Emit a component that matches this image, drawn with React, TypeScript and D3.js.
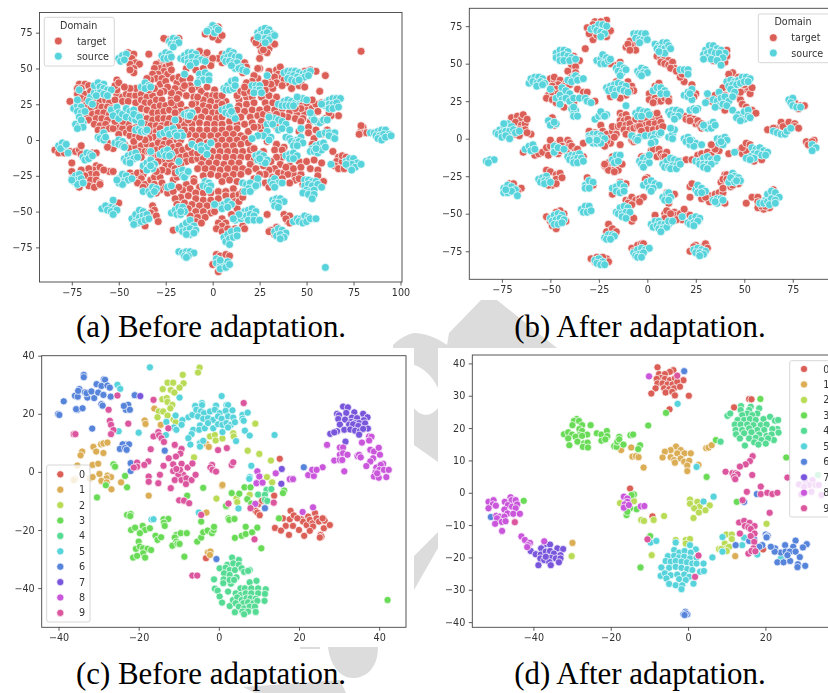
import React, { useEffect, useRef } from 'react';
import * as d3 from 'd3';

type Pt = number[];

const domainColors = ['#db5f57', '#57d3db'];
const digitColors = ['#db5f57', '#dbae57', '#b9db57', '#69db57', '#57db94', '#57d3db', '#5784db', '#7957db', '#c957db', '#db579e'];
const domainLabels = ['target', 'source'];
const digitLabels = ['0', '1', '2', '3', '4', '5', '6', '7', '8', '9'];

const ticksA = { x: [-75, -50, -25, 0, 25, 50, 75, 100], y: [-75, -50, -25, 0, 25, 50, 75] };
const ticksB = { x: [-75, -50, -25, 0, 25, 50, 75], y: [-75, -50, -25, 0, 25, 50, 75] };
const ticksC = { x: [-40, -20, 0, 20, 40], y: [-40, -20, 0, 20, 40] };
const ticksD = { x: [-40, -20, 0, 20], y: [-40, -30, -20, -10, 0, 10, 20, 30, 40] };

const aTarget: Pt[] = [
[3,79],[-4,74],[4,72],[3,70],[5,73],[0,72],[28,66],[25,66],[30,64],[26,62],[29,61],[32,68],[27,63],[22,70],[23,68],[33,67],[-24,70],[-18,71],[-26,71],[79,62],
[-34,60],[-45,61],[-42,60],[-43,57],[-41,54],[-39,53],[-44,53],[-42,50],[-42,47],[-44,49],[-4,59],[-7,62],[-3,61],[5,60],[5,54],[-1,54],[3,57],[0,57],[14,56],[17,54],[18,51],[16,47],[25,50],[24,50],[25,57],
[-28,54],[-30,53],[-26,56],[-28,50],[-31,50],[-25,51],[-23,53],[-26,48],[-29,46],[-24,46],[-32,46],[-30,43],[-27,43],[-22,49],[-33,42],[-28,39],[-25,41],[-21,43],[-35,43],
[-14,50],[-9,49],[-5,50],[-1,52],[-12,43],[-8,37],[-12,38],[-19,40],[-16,36],[-20,36],[-11,35],[-6,34],[-3,37],[1,35],[-3,31],[0,31],[-14,31],[-10,30],[-18,32],[-22,29],
[30,48],[34,49],[36,51],[35,46],[31,43],[33,44],[37,44],[40,40],[38,42],[43,39],[46,38],[34,40],[37,38],[47,41],[52,49],[55,48],[49,48],[60,45],[32,36],[49,37],[42,36],
[-71,39],[-72,36],[-68,39],[-70,36],[-66,38],[-72,32],[-68,32],[-65,34],[-70,29],[-67,28],[-63,27],[-60,27],[-57,28],[-55,26],[-68,24],[-65,22],[-62,24],[-59,23],[-56,23],[-54,22],[-67,18],[-64,18],[-61,19],[-58,19],[-55,18],[-66,14],[-62,15],[-59,15],[-56,14],[-63,11],[-60,10],[-57,11],[-61,7],[-58,7],[-55,8],[-76,27],
[-51,32],[-51,35],[-48,30],[-46,32],[-52,28],[-48,27],[-44,31],[-41,31],[-38,32],[-45,27],[-41,26],[-38,28],[-35,30],[-32,31],[-36,26],[-33,26],[-30,28],[-27,28],[-31,23],[-28,24],[-25,24],[-38,22],[-35,21],[-32,19],[-29,19],[-26,20],[-23,21],[-20,24],[-17,25],[-22,26],[-19,29],[-38,16],[-35,15],[-32,14],[-29,15],[-26,15],[-23,15],[-36,11],[-33,10],[-30,10],[-27,10],[-24,11],[-21,11],[-18,10],[-15,11],[-45,11],[-51,9],[-53,8],[-48,8],[-50,4],[-46,5],[-44,3],[-41,3],[-33,5],[-30,6],[-28,8],[-31,2],[-28,0],[-25,1],[-22,1],[-19,0],[-17,0],[-34,1],
[-47,-3],[-44,-6],[-41,-5],[-38,-4],[-35,-3],[-32,-4],[-29,-2],[-26,-3],[-23,-2],[-39,-8],[-36,-8],[-38,-12],[-30,-7],[-27,-6],[-21,-5],[-18,-4],[-19,-8],[-16,-7],[-20,-13],[-17,-12],[-14,-11],[-11,-9],[-14,-15],[-11,-14],[-8,-13],[-53,-6],[-56,-2],[-56,-5],
[-5,28],[-1,27],[3,27],[7,27],[14,28],[18,30],[21,30],[-9,26],[-5,24],[-2,23],[2,23],[5,25],[14,24],[18,25],[22,26],[-8,21],[-4,20],[0,19],[3,19],[13,21],[17,20],[21,21],[25,21],[-9,15],[-6,16],[-2,15],[2,15],[5,16],[15,16],[20,16],[24,17],[27,18],
[-11,11],[-7,12],[-3,11],[1,11],[5,11],[9,13],[13,11],[17,11],[21,12],[26,13],[-11,7],[-7,7],[-3,7],[1,7],[5,7],[9,8],[13,8],[-13,4],[-9,3],[-5,3],[-1,3],[3,3],[7,4],[11,4],[15,3],[19,6],[-11,-1],[-7,-1],[-3,-2],[1,-1],[5,0],[9,0],[13,0],[17,1],
[-13,-5],[3,-4],[7,-4],[11,-4],[15,-3],[19,-2],[-8,-9],[-4,-9],[0,-8],[4,-8],[8,-8],[12,-8],[16,-8],[20,-7],[-5,-13],[-1,-12],[3,-12],[7,-12],[11,-12],[15,-12],[19,-12],[-6,-17],[-2,-16],[2,-16],[6,-17],[10,-16],[14,-16],
[-8,-20],[-4,-20],[0,-20],[4,-21],[8,-20],[12,-20],[16,-20],[-5,-25],[-1,-24],[3,-25],[7,-25],[11,-24],[15,-24],[-10,-27],[5,-29],[9,-28],[13,-29],
[-14,-31],[-10,-29],[-7,-33],[-16,-35],[-12,-34],[-9,-37],[-5,-37],[-1,-37],[3,-36],[7,-36],[11,-34],[-17,-40],[-13,-39],[-9,-41],[-5,-42],[-1,-42],[3,-41],[7,-39],[11,-39],[14,-38],[-15,-44],[-11,-45],[-7,-46],[-3,-46],[1,-47],[12,-43],[-13,-48],[-9,-50],[-5,-50],[-1,-51],[-12,-53],[-8,-54],[-4,-54],[-9,-57],[-6,-58],[5,-55],[3,-58],[7,-58],[10,-52],[13,-48],[5,-60],[2,-62],[5,-64],[8,-62],[-21,-63],[1,-50],[12,-62],[16,-60],[17,-62],
[26,30],[30,31],[34,30],[28,26],[32,26],[29,22],[33,21],[37,22],[41,20],[45,19],[49,19],[40,16],[44,15],[48,15],[52,13],[37,17],[30,17],[34,18],[52,22],[55,25],[58,26],[56,20],[49,23],[47,13],[51,9],[46,6],[51,5],[55,7],[58,4],[54,1],[53,-3],[29,-1],[34,-3],[38,-5],[22,-6],[27,-8],[33,-7],[37,-7],[37,-12],[34,-12],[31,-15],[36,-17],[33,-20],[30,-21],[41,-18],[46,-15],[27,-18],[28,-24],[32,-26],[28,-30],[30,-33],[35,-23],[38,-23],[43,-24],[47,-24],[52,-20],[56,-21],[44,-28],[48,-31],[46,-27],[56,-25],[59,-29],[50,-15],[54,-14],[58,-16],[41,-30],[64,-8],
[57,34],[61,24],[67,17],[63,17],[60,15],[62,19],[61,7],[58,13],[80,9],[79,6],[81,5],[78,4],[82,5],[79,10],[67,-12],[66,-15],[69,-15],[65,-18],[67,-20],[70,-20],[69,-11],[71,-12],
[-84,-7],[-82,-9],[-79,-9],[-76,-8],[-73,-8],[-71,-7],[-70,-10],[-75,-16],[-70,-4],[-64,-9],[-62,-9],[-55,-22],[-62,-18],[-63,-21],[-60,-19],[-66,-20],[-70,-21],[-65,-24],[-62,-24],[-58,-21],[-68,-25],[-65,-28],[-62,-28],[-60,-30],[-71,-33],[-66,-32],[-63,-33],[-60,-31],[-75,-22],
[-44,-23],[-42,-25],[-40,-23],[-37,-24],[-38,-27],[-40,-30],[-36,-31],[-33,-28],[-31,-26],[-28,-26],[-31,-31],[-27,-30],[-28,-35],[-25,-33],[-24,-37],[-37,-33],[-30,-37],[-21,-28],[-19,-26],[-53,-22],[-32,-46],[-31,-49],[-33,-51],[-34,-54],[-30,-53],[-36,-60],[-29,-57],[-52,-44],[-50,-44],
[2,-80],[4,-81],[7,-80],[9,-81],[0,-87],[3,-92],[34,-61],[31,-63],[33,-66],[30,-64],[38,-52],[42,-55],[40,-57],[41,-53],[39,-55],[41,-58],[29,-52],[-51,42],[-52,38],[-50,40],
[47,26],[50,26],[53,28],[47,22],[44,22],[30,13],[27,9],[24,9],[22,9],[34,9],[26,5],[22,-14],[20,-17],[19,-22],[23,-20],[25,-24],[22,-27],[40,-24],[39,-19],[37,-27],[43,-20],[47,-19],
[-40,11],[-42,8],[-38,8],[-44,8],[-48,13],[-52,13],[-42,-1],[-36,0],[-39,2],[-34,-8],[-32,-11],[-29,-11],[-26,-14],[-23,-14],[-29,-15],[-25,-18],[-22,-18],[-20,-20],[-17,-17],[-20,-23],[-24,-22],[-27,-21],[-30,-22],[-37,-21],
[-18,44],[-16,42],[-15,38],[-22,33],[-24,37],[-26,34],[-28,33],[-31,36],[-34,35],[-41,36],[-44,36],[-47,37],[-8,30],[-11,25],[-14,21],[-17,20],[-20,19],[-16,16],[-13,14],[-18,14],[-15,7],
[2,31],[5,31],[13,31],[15,34],[17,33],[20,34],[28,35],[31,39],[28,40],[24,43],[22,45],[21,41],[18,40],[17,37],[-18,-33],[-21,-36],[-20,-41],[-19,-45],[14,-43],[16,-40],[16,-36],
];

const aSource: Pt[] = [
[0,80],[-2,77],[2,78],[-3,76],[1,75],[3,77],[24,75],[26,77],[28,78],[30,77],[32,74],[25,73],[27,74],[29,75],[31,72],[26,71],[28,71],[30,70],[28,68],[33,73],[24,72],
[-23,69],[-21,71],[-19,70],[-22,67],[-20,67],[-18,68],[-21,65],[-17,57],[-15,59],[-13,61],[-11,61],[-9,60],[-15,56],[-13,57],[-11,58],[-8,57],[-6,56],[-13,54],[-11,54],[-9,54],[-12,52],[-4,55],
[-27,59],[-25,61],[-23,60],[-26,57],[-24,57],[-22,58],[-50,57],[-48,59],[-46,60],[-49,55],[-47,56],[7,60],[9,62],[11,61],[6,57],[8,58],[10,59],[12,58],[14,58],[7,55],[9,55],[11,54],[13,54],[15,51],[12,50],[14,50],[16,49],[10,52],[18,48],
[-15,46],[-7,46],[-4,47],[-2,45],[-7,42],[-5,42],[-2,42],[-8,40],[-38,37],[-36,40],[-34,38],[-36,36],[-33,37],[-65,30],[-63,33],[-61,35],[-63,38],[-61,40],[-58,39],[-60,37],[-58,36],[-56,35],[-54,35],[-60,33],[-58,32],[-62,31],[-56,31],[-66,27],[-64,25],
[-74,22],[-72,24],[-70,23],[-72,20],[-70,19],[-68,20],[-72,28],[-71,16],[-73,11],[-71,10],[-69,12],[-70,14],[-69,9],[-72,8],[-71,35],[-54,21],[-51,23],[-50,19],[-53,17],[-50,15],[-48,18],[-46,22],[-44,20],[-46,16],[-43,15],[-41,14],[-40,17],[-42,21],[-42,18],[-39,16],
[-41,7],[-39,8],[-38,6],[-36,6],[-35,7],[-38,12],[-28,4],[-26,5],[-24,7],[-21,8],[-23,4],[-20,5],[-17,5],[-16,3],[-19,3],[-15,18],[-13,19],[-11,19],[-13,17],[-12,17],[-20,14],
[6,36],[8,38],[10,41],[12,42],[7,35],[9,35],[11,36],[12,38],[21,38],[23,38],[25,38],[23,35],[25,35],[22,33],[26,33],[5,21],[7,22],[9,23],[7,19],[9,18],[11,17],[12,15],[10,20],
[38,47],[40,48],[42,48],[44,48],[46,47],[48,46],[50,47],[52,48],[41,45],[43,45],[45,44],[47,43],[49,44],[51,45],[40,43],[42,42],[44,41],[46,42],[29,45],[35,25],[38,27],[40,28],[42,27],[44,26],[37,24],[39,24],[41,24],[43,24],[46,29],[48,29],[50,28],[45,30],
[60,26],[62,28],[64,29],[66,29],[68,29],[60,24],[62,25],[64,25],[66,26],[62,22],[64,22],[67,23],[58,25],[29,11],[31,13],[33,15],[35,14],[37,13],[32,11],[30,16],[39,11],[35,7],[37,8],[29,6],[31,2],[27,3],[30,0],[24,3],[21,1],
[53,16],[55,13],[57,12],[59,14],[61,14],[54,14],[52,19],[39,2],[41,1],[45,0],[47,2],[42,-1],[44,-2],[46,-1],[48,-2],[43,-4],[45,-4],[41,7],[47,8],[57,4],[60,5],[62,5],[65,5],[64,2],[62,3],[65,1],
[53,-6],[55,-4],[57,-3],[59,-2],[52,-8],[54,-8],[56,-9],[58,-7],[60,-5],[55,-6],[39,-11],[41,-10],[43,-9],[45,-11],[41,-13],[43,-13],[23,-11],[25,-10],[27,-11],[29,-14],[24,-14],[26,-15],[28,-16],[25,-13],
[-11,-3],[-8,-5],[-6,-4],[-3,-5],[-6,-7],[-1,-2],[-3,-10],[-28,-10],[-26,-8],[-24,-7],[-22,-10],[-25,-11],[-23,-11],[-33,-8],[-37,-18],[-35,-16],[-33,-14],[-31,-17],[-34,-19],[-32,-20],[-35,-21],[-33,-18],
[-47,-13],[-45,-11],[-43,-10],[-41,-9],[-46,-15],[-44,-14],[-42,-13],[-40,-12],[-44,-16],[-52,-2],[-50,0],[-48,-1],[-50,-3],[-48,-4],[-47,-5],[-61,2],[-59,3],[-58,5],[-60,1],[-58,0],[-57,2],[-82,-4],[-80,-2],[-79,-5],[-81,-6],[-77,-9],[-78,-3],
[-69,-12],[-67,-9],[-65,-10],[-68,-14],[-66,-13],[-64,-11],[-75,-27],[-73,-25],[-71,-24],[-74,-29],[-72,-28],[-70,-27],[-72,-31],[-69,-30],[-75,-28],[-50,-27],[-48,-24],[-46,-25],[-50,-30],[-47,-29],[-45,-28],[-43,-27],[-48,-31],[-51,-28],
[-37,-36],[-34,-36],[-32,-33],[-30,-34],[-33,-38],[-31,-36],[-24,-33],[-22,-32],[-18,-22],[-16,-21],[-14,-24],[-16,-25],[-15,-26],[-13,-22],[-18,-15],[-4,-29],[-2,-30],[-5,-32],[-3,-33],[-1,-32],[-2,-35],
[16,-30],[18,-31],[20,-30],[22,-33],[24,-31],[19,-34],[17,-36],[20,-36],[24,-27],[23,-32],[31,-29],[33,-27],[35,-30],[37,-30],[32,-31],[33,-33],[32,-42],[34,-41],[36,-41],[38,-43],[33,-44],[35,-44],[33,-46],[35,-47],
[49,-28],[51,-28],[53,-29],[55,-29],[49,-32],[51,-31],[53,-32],[56,-31],[58,-33],[50,-35],[52,-36],[54,-35],[48,-37],[51,-38],[54,-38],[53,-41],[43,-57],[45,-55],[47,-55],[49,-53],[51,-54],[46,-57],[48,-58],[50,-57],[52,-55],[55,-55],
[4,-46],[6,-45],[8,-43],[10,-45],[5,-48],[8,-47],[1,-45],[12,-56],[15,-55],[17,-50],[19,-49],[21,-48],[23,-50],[16,-53],[18,-53],[20,-52],[22,-53],[19,-56],[22,-56],[25,-56],[14,-52],[11,-55],
[6,-68],[8,-66],[10,-64],[13,-63],[7,-71],[9,-69],[11,-68],[13,-67],[9,-73],[-18,-62],[-16,-60],[-14,-58],[-12,-56],[-10,-60],[-16,-64],[-14,-63],[-12,-62],[-9,-63],[-12,-66],[-14,-66],[-10,-65],
[-22,-51],[-20,-49],[-18,-47],[-16,-47],[-19,-52],[-17,-52],[-15,-50],[-17,-50],[-43,-55],[-41,-52],[-39,-49],[-37,-50],[-41,-57],[-39,-54],[-37,-53],[-35,-52],[-40,-58],[-38,-57],[-36,-56],[-42,-59],[-34,-55],
[-59,-48],[-57,-46],[-54,-47],[-52,-48],[-56,-49],[-54,-50],[-51,-49],[-53,-52],[-53,-42],[-18,-78],[-16,-79],[-14,-78],[-12,-78],[-10,-79],[-15,-81],[-13,-81],[-14,-82],[2,-83],[2,-86],[4,-88],[6,-87],[8,-85],[4,-90],[7,-89],[9,-87],[4,-84],
[33,-64],[35,-62],[37,-63],[39,-65],[34,-67],[36,-66],[38,-68],[36,-69],[84,5],[86,5],[88,6],[90,7],[92,7],[87,3],[89,3],[91,4],[94,4],[88,1],[90,0],[92,2],[95,3],
[71,-15],[73,-13],[75,-13],[77,-16],[72,-18],[74,-17],[76,-19],[79,-17],[74,-21],[71,-17],[60,-89],[63,-17],
];

const bTarget: Pt[] = [
[-27,78],[-21,79],[-28,76],[-31,74],[-24,78],[-28,66],[-21,68],[-20,71],[-19,72],[-30,70],[-26,69],[-32,60],[-11,61],[-9,65],[-8,60],[-7,62],[-5,64],[-10,63],[-6,59],[-9,59],
[5,55],[7,54],[9,54],[11,52],[7,51],[9,50],[11,49],[13,51],[14,47],[12,47],[15,45],[31,55],[34,52],[36,52],[40,51],[41,55],[41,59],[-38,55],[-35,52],[-39,49],[-37,48],[-41,45],[-37,44],[-39,41],[-16,49],[-19,50],[-14,51],[-50,40],[-48,39],[-48,41],
[-45,39],[-42,37],[-46,36],[-43,35],[-49,35],[-47,33],[-40,36],[-51,29],[-49,31],[-52,27],[-49,26],[-47,24],[-46,30],[-43,21],[-38,24],[-36,33],[-33,31],[-27,25],[-31,31],[-16,38],[-10,38],[-8,35],[-7,32],[-11,29],[-14,27],[-19,28],[-9,32],
[1,30],[1,26],[4,27],[5,25],[7,25],[9,27],[4,35],[6,37],[11,27],[3,24],[11,25],[19,38],[17,41],[18,43],[23,36],[25,30],[24,28],[32,27],[33,25],[35,29],[38,24],[39,34],[40,29],[42,40],[44,44],[42,43],[47,41],[50,33],[52,34],[53,30],[54,34],[46,29],[48,26],[49,23],[51,21],[54,19],[56,17],[40,19],[50,36],[48,31],
[62,6],[66,7],[69,11],[70,8],[73,11],[76,10],[76,8],[65,7],[78,7],[76,24],[79,22],[81,22],[78,20],[82,-2],[84,-5],[86,-1],[83,-4],[85,-2],[-70,14],[-67,15],[-65,13],[-64,16],[-68,11],[-65,9],[-63,10],[-66,6],[-63,6],[-60,3],[-68,3],[-62,13],[-62,4],[-66,2],[-49,14],[-48,9],
[-64,-9],[-58,-11],[-56,-10],[-54,-9],[-51,-11],[-52,-6],[-50,-5],[-50,-1],[-47,-4],[-45,-2],[-45,-1],[-41,-1],[-40,-3],[-44,-5],[-41,-6],[-39,-5],[-37,-8],[-36,-7],[-46,-10],[-41,-10],[-33,-12],[-45,-8],
[-24,9],[-27,4],[-30,5],[-23,5],[-21,3],[-18,5],[-18,8],[-15,8],[-16,3],[-20,0],[-19,-3],[-17,1],[-21,-2],[-14,-4],[-22,-5],[-33,-3],[-14,17],[-13,15],[-11,16],[-14,12],[-12,12],[-10,13],[-14,9],[-11,9],[-9,10],[-12,6],[-9,6],[-11,3],[-8,3],[-7,7],[-5,8],
[-6,13],[-3,12],[0,13],[3,13],[6,14],[-1,9],[1,10],[4,10],[7,11],[-4,8],[0,6],[3,6],[6,7],[8,8],[-3,5],[-8,-1],[-7,-2],[-6,-1],[2,16],[5,17],[19,15],[20,13],[22,14],[24,13],[25,10],[26,12],[27,9],[28,7],[28,10],[22,12],
[-22,-18],[-20,-16],[-18,-12],[-16,-19],[-18,-18],[-21,-19],[-18,-21],[-15,-21],[-13,-17],[-20,-21],[-17,-22],[-22,-17],[-3,-12],[0,-12],[2,-8],[3,-7],[6,-7],[5,-12],[7,-10],[8,-12],[10,-9],[9,-12],
[17,-15],[20,-14],[23,-14],[26,-11],[28,-10],[31,-9],[33,-11],[37,-8],[35,-7],[33,-4],[37,-2],[41,-1],[42,-10],[48,-8],[49,-10],[51,-8],[49,-6],[51,-3],[53,-4],[55,-15],[59,-14],[-52,-21],[-50,-22],[-47,-24],[-45,-23],[-47,-27],[-44,-26],[-49,-31],[-47,-30],[-51,-31],[-31,-26],[-28,-31],
[-71,-30],[-69,-30],[-65,-33],[-67,-35],[-18,-37],[-14,-29],[-11,-30],[-11,-41],[-9,-41],[-8,-39],[-6,-41],[-4,-40],[-2,-39],[-10,-43],[-8,-44],[-4,-42],[-8,-52],[-8,-55],[-7,-53],[0,-26],[2,-31],[-1,-27],[14,-37],[10,-36],[11,-43],
[22,-39],[22,-32],[23,-30],[28,-37],[28,-40],[32,-38],[33,-40],[32,-42],[30,-39],[35,-37],[37,-36],[40,-43],[39,-36],[38,-29],[40,-24],[39,-27],[43,-32],[41,-24],[41,-27],[39,-33],[47,-30],[44,-31],[51,-43],[54,-39],[57,-39],[57,-46],[60,-47],[63,-46],[59,-45],[65,-34],[57,-42],[61,-45],
[4,-51],[9,-50],[10,-48],[12,-52],[14,-49],[15,-51],[17,-50],[18,-54],[15,-54],[9,-53],[20,-50],[12,-50],[22,-51],[19,-47],[-52,-52],[-50,-55],[-49,-58],[-47,-60],[-43,-50],[-45,-48],[-42,-55],[-47,-49],[-20,-57],[-19,-61],[-21,-62],[-18,-60],[-16,-62],
[-8,-73],[-5,-71],[-3,-70],[-2,-72],[-7,-75],[-2,-70],[22,-75],[25,-71],[29,-72],[30,-70],[31,-73],[24,-72],[-29,-80],[-26,-79],[-21,-80],[-20,-82],[-23,-79],[-27,-82],
];

const bSource: Pt[] = [
[-29,73],[-27,74],[-25,76],[-23,76],[-21,75],[-26,72],[-24,71],[-22,70],[-24,68],[-7,70],[-5,70],[-3,70],[-1,68],[-6,67],[-4,66],[-2,66],[-4,64],[-1,70],[0,66],[4,63],[6,62],[8,64],[10,64],[5,60],[7,60],[9,60],[11,62],[7,57],[9,57],[6,58],[12,60],
[30,59],[32,62],[34,62],[36,60],[38,59],[40,57],[29,56],[31,57],[33,58],[35,57],[37,57],[39,54],[31,54],[33,53],[36,52],[38,49],[29,53],[-26,52],[-24,53],[-23,56],[-21,54],[-24,50],[-22,50],[-20,52],[-19,53],
[-47,57],[-45,59],[-43,59],[-41,58],[-47,54],[-45,55],[-43,56],[-41,55],[-39,54],[-45,52],[-43,52],[-40,52],[-37,53],[-16,47],[-14,49],[-12,47],[-15,45],[-13,44],[-11,46],[-14,42],[-5,45],[-3,47],[-1,46],[-4,43],[-2,44],[0,44],[-3,42],[17,46],[19,46],[21,46],[21,43],
[-61,37],[-60,40],[-58,41],[-56,41],[-54,40],[-59,38],[-57,37],[-55,38],[-53,37],[-57,35],[-54,36],[-41,39],[-38,41],[-37,42],[-35,40],[-39,38],[-36,39],[-33,40],[41,38],[43,39],[45,38],[47,39],[49,41],[51,41],[53,40],[42,35],[44,36],[46,36],[48,37],[50,38],[43,33],[45,31],[52,38],
[-21,34],[-19,35],[-17,36],[-15,37],[-13,36],[-11,35],[-20,32],[-18,33],[-16,32],[-14,33],[-12,32],[-10,31],[-17,29],[3,32],[5,34],[7,34],[9,32],[7,30],[10,30],[19,29],[21,31],[23,33],[21,28],[23,26],[22,30],
[-47,27],[-45,29],[-44,34],[-42,32],[-40,30],[-44,26],[-42,27],[-40,25],[-38,27],[-45,23],[-50,33],[-35,27],[-32,27],[-31,25],[-29,24],[31,30],[37,31],[34,26],[36,25],[38,27],[40,28],[42,25],[44,28],[37,22],[35,21],[39,23],[41,22],[30,24],
[44,19],[47,16],[48,14],[50,18],[52,19],[46,14],[50,13],[52,15],[53,14],[48,12],[-39,20],[-37,19],[-38,17],[-38,15],[-36,15],[-38,21],[73,26],[75,27],[74,24],[75,22],[77,21],[79,21],[-11,22],[-27,13],[-25,15],[-23,16],[-21,16],[-24,18],[-22,15],
[-6,17],[-4,19],[-2,18],[0,18],[-5,15],[-3,15],[1,16],[11,18],[13,19],[15,19],[17,18],[12,16],[14,15],[16,15],[14,13],[22,19],[24,20],[26,20],[25,19],[29,8],[31,9],[33,10],[34,11],[31,7],[33,7],[35,9],[29,9],[-51,12],[-49,10],[-47,10],[-50,9],[-48,11],
[-78,4],[-76,6],[-74,8],[-72,10],[-70,8],[-77,3],[-75,4],[-73,5],[-71,5],[-69,6],[-75,1],[-73,2],[-71,0],[-68,4],[-66,5],[-74,10],[-30,2],[-28,3],[-26,3],[-24,2],[-30,0],[-28,-1],[-26,0],[-24,0],[-22,0],[-28,-3],[-26,-3],[-24,-3],[-26,-1],[-30,-1],
[-8,2],[-6,0],[-4,1],[-5,-1],[-1,2],[2,2],[4,3],[6,3],[3,0],[4,-2],[2,-3],[7,4],[11,1],[13,3],[14,6],[12,7],[13,0],[19,0],[21,1],[23,-1],[25,-3],[20,-2],[22,-4],[24,-5],[22,-1],[36,0],[38,0],[40,1],[41,-1],[37,-3],[39,-4],[38,-2],[28,-4],[45,-9],
[54,-6],[56,-7],[58,-6],[60,-8],[62,-9],[55,-10],[57,-10],[59,-11],[61,-11],[53,-12],[55,-13],[51,-13],[53,-14],[-63,-7],[-61,-5],[-59,-4],[-60,-8],[-58,-7],[-48,-7],[-48,-5],[-48,-9],[-46,-6],[-43,-7],
[-41,-12],[-39,-11],[-37,-11],[-35,-10],[-40,-14],[-38,-14],[-36,-13],[-34,-13],[-38,-16],[-36,-16],[-33,-15],[-18,-14],[-16,-11],[-14,-11],[-17,-16],[-15,-15],[-4,-15],[-2,-13],[0,-14],[-3,-17],[-1,-17],[1,-16],[-2,-19],[1,-11],
[8,-17],[10,-15],[12,-13],[14,-14],[16,-15],[9,-19],[11,-19],[13,-18],[15,-18],[12,-20],[15,-20],[17,-17],[25,-15],[27,-15],[29,-13],[31,-12],[33,-14],[35,-15],[27,-17],[29,-17],[31,-17],[33,-17],[29,-19],[31,-20],[36,-13],[-83,-15],[-81,-14],[-79,-14],[-82,-16],
[-56,-27],[-54,-26],[-52,-25],[-55,-29],[-53,-28],[-51,-28],[-53,-30],[-50,-29],[-32,-31],[-30,-28],[-28,-29],[-32,-33],[-30,-33],[-18,-33],[-16,-32],[-14,-30],[-12,-32],[-16,-35],[-14,-36],[-12,-35],[-2,-31],[0,-29],[2,-28],[4,-30],[6,-31],[1,-33],[3,-33],[2,-35],
[8,-39],[10,-37],[11,-36],[12,-39],[9,-41],[11,-41],[25,-34],[26,-31],[28,-33],[30,-35],[26,-36],[28,-36],[42,-29],[44,-23],[45,-25],[47,-26],[48,-28],[43,-26],[45,-29],[46,-28],[34,-41],[36,-40],[38,-40],[36,-43],[35,-42],[39,-41],
[58,-43],[61,-41],[62,-37],[64,-35],[66,-36],[68,-39],[60,-43],[62,-42],[64,-40],[66,-41],[63,-44],[66,-43],[-74,-33],[-72,-31],[-70,-32],[-68,-34],[-74,-36],[-72,-36],[-70,-35],[-67,-38],[-73,-34],
[-50,-53],[-48,-51],[-46,-50],[-44,-51],[-49,-55],[-47,-54],[-45,-53],[-43,-54],[-48,-57],[-46,-57],[-44,-56],[-34,-47],[-32,-45],[-30,-45],[-33,-49],[-31,-49],[-29,-48],[-16,-49],[-14,-46],[-12,-45],[-10,-46],[-15,-50],[-13,-50],[-11,-49],[-9,-49],[-13,-52],[-11,-53],
[2,-57],[4,-55],[6,-55],[3,-59],[5,-58],[7,-57],[9,-57],[11,-57],[6,-60],[8,-60],[10,-59],[7,-62],[11,-55],[13,-55],[21,-56],[23,-53],[25,-52],[27,-53],[22,-57],[24,-56],[26,-55],[18,-52],[24,-58],[-22,-66],[-20,-64],[-18,-64],[-17,-65],[-21,-67],[-19,-67],
[-7,-76],[-5,-74],[-3,-73],[-1,-74],[1,-73],[-6,-78],[-4,-77],[-2,-76],[-5,-79],[-3,-79],[24,-74],[26,-73],[28,-74],[30,-75],[25,-76],[27,-76],[29,-77],[27,-78],[-27,-81],[-25,-80],[-23,-82],[-26,-83],[-24,-84],[-22,-84],[65,5],[67,4],[69,3],[71,3],[72,5],[74,7],[85,-4],[87,-6],[85,-8],
];

const c0: Pt[] = [[17.9,-13.4],[15.2,4.5],[13.8,-8.2],[9.8,-11.1],[10.8,-9.9],[9.1,-13.3],[9.6,-14],[10.2,-14.9],[-3.2,-29.7],[33.2,14.8],[16,-16],[17.7,-16.3],[18.7,-15],[16.7,-18.6],[14,-19.3],[15.5,-20.2],[17.5,-21.7],[18.5,-18.6],[20,-20],[20.6,-16.3],[21,-17.1],[19.6,-16],[21.3,-22],[21.9,-18.3],[22.3,-15.4],[22.7,-16.5],[24,-14.2],[23.4,-17.7],[23.5,-18.8],[22.7,-20.3],[24.4,-16],[25,-17.1],[26,-16],[26.4,-16.8],[26.2,-19.4],[27.7,-18.3],[25.4,-21.7],[25.6,-22.3],[25.2,-22.6],[25.9,-16]];
const c1: Pt[] = [[-16.1,21.8],[-18.5,17.7],[-18.3,16.5],[-14.5,16.2],[-31.3,8.6],[-29.4,9.5],[-28.8,9.8],[-27.8,10.1],[-34.1,7],[-34.5,5.7],[-30.6,7],[-28.8,6.5],[-31.5,2.4],[-30.1,2.8],[-35.3,2.2],[-29.8,-0.7],[-35.9,-2.5],[-36.2,-2.8],[-32.2,-2.2],[-31.5,-1.8],[-27.8,-1.3],[-26.9,-1.8],[-28,-2.2],[-29.3,-3.1],[-28,-3.6],[-26.8,-6],[-24.4,-3.6],[-17.5,-8.2],[-3.1,9.6],[-2.5,8.6],[0.8,-4.8],[0.9,-4.5],[-3.1,-14],[-2.7,-27.7],[-2.1,-27.4],[-2.2,-28.6]];
const c2: Pt[] = [[-4.8,35.9],[-5.2,34.2],[-9,33.4],[-8.8,30.5],[-9.8,29],[-12.8,30.7],[-11.4,30.7],[-14,28.5],[-12,28.2],[-11.1,27.3],[-14.1,25],[-13,25.4],[-12.8,24.1],[-11.6,23.1],[-12.1,21.9],[-15,20.8],[-13.9,20.8],[-15.3,18.8],[-12.8,19.4],[-11.3,18],[-10.8,17.1],[-2.2,12.2],[-1,12.7],[-0.8,10.8],[0.9,11.5],[3.6,13.3],[3.7,12.2],[9.1,16.6],[7.2,7.3],[10.1,6.2],[13,3.9],[-6.2,5],[12,-1.8],[13.3,-3.6],[7.7,-7.9],[4.4,-9.1],[4.6,-10.4],[-0.6,-9.2]];
const c3: Pt[] = [[-26.3,2.6],[-25.9,1.8],[-23.4,-1.4],[-28.2,-4.6],[-22.9,-5.3],[-30.4,-8.8],[-3.9,-5.5],[-7.9,-8.2],[3.2,-7.3],[5.1,-7.5],[1.9,-11.9],[1.8,-11.7],[6.4,-5.3],[7.9,-5.3],[7.1,-9.4],[8.1,-10.9],[15,-16],[-22.9,-14.8],[-22,-14.5],[-22.1,-15.2],[-21.9,-20],[-20.9,-19.2],[-19,-18.6],[-18.4,-20],[-19.7,-21.1],[-17.2,-19.4],[-20,-24],[-20.7,-26.5],[-19.7,-25.7],[-18.9,-26.3],[-17.8,-26.5],[-16.9,-26.9],[-18.9,-28],[-21.4,-29.5],[-20.4,-28.9],[-18.4,-29.5],[-15.8,-22],[-15.3,-23.4],[-14.4,-22.5],[-13.8,-16.3],[-12.6,-16.2],[-13.7,-17.5],[-13.5,-18.6],[-10.6,-21.7],[-9.5,-21.1],[-8,-21.1],[-11,-22.6],[-10.6,-24],[-11.6,-25.4],[-10.3,-24.7],[-9.8,-24.8],[-8.6,-29.2],[-5.4,-24],[-4.4,-22.6],[-3.9,-20.8],[-2.8,-20.2],[-4.4,-17.1],[-1.7,-21.1],[-1.3,-20],[-1.2,-18.9],[2.4,-16],[2.6,-16.5],[3.9,-16.2],[4,-22.7],[5.7,-22],[6.7,-21.4],[6.7,-18.9],[8.3,-20.8],[9.6,-19.2],[10.6,-26.3],[42.1,-44.1],[16.3,-6.4],[16,-7.3]];
const c4: Pt[] = [[3.3,-29.5],[5,-30.3],[2.1,-32],[3.6,-31.5],[5,-32],[0.2,-33.2],[1.7,-33],[2.7,-33.8],[4,-33.8],[5.7,-33.2],[1.3,-34.9],[2.7,-35.5],[4.4,-36.3],[6.3,-34.4],[7.7,-33.8],[7.3,-34.1],[-1.2,-37],[1.2,-37],[1.1,-38.3],[3,-38.5],[2.7,-37.2],[3.8,-37.2],[-1,-40.2],[-0.3,-40.9],[2.3,-41.2],[0.2,-42.9],[0.8,-45],[2.7,-46.2],[5.4,-40.1],[6.5,-40.1],[7.7,-38],[9.4,-37.5],[8.1,-40.1],[9.8,-40.1],[11.7,-40.4],[4.2,-41.8],[5.4,-42.4],[6.7,-41.8],[8.1,-41.8],[9.8,-41.8],[11.5,-42],[3.5,-44.1],[4.6,-43.2],[5.7,-44.1],[6.9,-43.5],[7.9,-43.5],[9.2,-43.7],[11.4,-44.4],[4.2,-45.2],[6.1,-45.2],[7.3,-44.9],[8.6,-45.2],[9.6,-44.4],[5,-46.4],[6.3,-47],[7.7,-46.4],[9,-46.4],[4,-48.3],[5.9,-48.1],[7.3,-48.1],[9.2,-48.2],[6.3,-49],[9.8,-7.8],[11.9,-6.2],[11.5,-7.9],[13.1,-5.9],[11.5,-9.6],[12.1,-10]];
const c5: Pt[] = [[-17.2,36],[0.7,26.1],[-25.3,30],[-24.6,28.6],[-9.8,25.6],[-25,14],[-20,13.5],[-5,-14],[-16.8,-16.4],[-16.3,-16.3],[4.9,-12.6],[13.9,12.7],[8.1,2.1],[7.7,-1.8],[7.6,-2.4],[-4.2,23.7],[-4.2,23],[-5.9,22.7],[-0.7,22.8],[1.9,23],[2.3,23],[-7.6,18.8],[-6.6,19.6],[-5.6,21.4],[-4.5,20.8],[-3.7,20.2],[-2.2,20.8],[-1,21.4],[0.2,20.2],[1.7,21],[3.4,21.2],[-5.2,19.1],[-3.9,18.3],[-2.7,18.5],[-1.4,17.9],[-0.2,19.1],[0.7,18.3],[2.3,19.1],[3.6,18.7],[5.9,19.6],[7.2,20.4],[5.9,18.3],[6.2,17.6],[-9.1,17.8],[-9.3,16.2],[-10.8,19.4],[-13.1,17.2],[-11.2,15.3],[-10.6,14.5],[-13.2,12.7],[-6.4,14.5],[-6.8,13],[-7.6,11.6],[-7.1,9.4],[-4.7,16],[-4.9,14.5],[-3.5,15],[-2.7,16.8],[-1.4,15],[-0.2,16.4],[0.9,16.2],[1.9,16.8],[3,16.2],[4,17.1],[2.3,15.3],[0.9,13.7],[-4.7,9.9],[-4.7,8.7],[-3.9,10.7],[4.3,10.6],[6.5,14.2],[7.7,12.5]];
const c6: Pt[] = [[-33.7,33.4],[-33.7,32.6],[-38.7,24.3],[-40.1,19.9],[-39.8,19.6],[-35.3,21.4],[-35.6,21.6],[-34,21.9],[-35.9,26.2],[-35.2,25.9],[-34.8,28.5],[-35.1,27.9],[-33.4,27.4],[-32.8,25.6],[-33,27.1],[-31.8,27.7],[-31.1,25.4],[-30.5,30.2],[-30.1,27.3],[-29.3,29.6],[-28.7,31.9],[-28.4,31.7],[-27.8,29.7],[-27.2,29],[-27,25.9],[-28.8,26.5],[-29.3,23.3],[-29,22.8],[-31.6,14.9],[-23.4,22.5],[-22.6,23.1],[-23.2,21.4],[-22.2,21.4],[-23.7,22.7],[-23.2,9.5],[-24,9.5],[-22.4,9.5],[-24.7,7.9],[-23.4,8.2],[-23,7.6],[-22,3],[-22,0.3],[-21,26.4],[-13.5,7.3],[-0.6,-30],[11.5,-12.5],[21.2,1.6]];
const c7: Pt[] = [[31,22.5],[32.2,22.2],[29.5,20],[30,19.5],[31.8,20.3],[33.8,20.5],[36,20],[37.1,18.8],[29.8,18.2],[31.5,18],[33.2,18.7],[34.5,18.5],[36.2,17.8],[33,17.2],[34,16.8],[35,16.8],[36.5,16.7],[30.2,16.3],[32.5,16.3],[33.5,16.4],[34.8,15.8],[37.2,14.9],[29.5,14],[31.3,14.5],[32.8,14.6],[34,14.2],[35.2,14],[36,14.8],[27.8,13.1],[35,12.8],[28.8,13.6],[15.7,1],[15.6,-4.1],[31.6,10.4],[-19.6,26.1]];
const c8: Pt[] = [[27,9.3],[30.2,8.4],[31,8.4],[30.2,5.9],[31,6.4],[32.1,5.9],[28.8,3.9],[30.2,4.1],[30.8,4.1],[31.3,0.2],[34.6,5.5],[35,5.9],[35.4,5],[35.7,10.1],[37.5,12.2],[38.1,12.1],[37.5,10.8],[37.8,7.6],[38.7,7],[39.9,8.3],[40.2,5.9],[38.5,4.7],[37.8,3.6],[36.8,2],[39.3,1.5],[41,2.8],[40.4,2.4],[39.1,-0.2],[40.1,0.7],[41.2,0.7],[42.4,0.7],[38.7,-1.6],[39.9,-2],[41.8,-1.8],[39.5,-0.5],[25.9,1.6],[22.3,-1.1],[23.7,-1.4],[23.3,0.7],[24.4,0.7],[17.7,-2.5],[18.5,-2.5],[14.2,-0.5],[9.6,0.2],[10.1,-1.6],[9.4,-3.9],[10.9,-3.7],[9.1,-11],[20.9,-13.8],[23.5,-12.2]];
const c9: Pt[] = [[-25.3,26.3],[-16.3,24.8],[6.2,23.7],[-27.5,21.4],[-27.2,17.6],[-26.9,16.2],[-26.3,14.4],[-26.9,13],[-22.6,16.6],[-36.2,13],[-35.8,13],[-16.3,12.2],[-15.1,13.7],[-14.9,12.6],[-14.3,11.6],[-13.7,10.3],[-12.6,15],[-11,9.3],[-9.3,7.9],[-17,7.8],[-9.6,6.3],[-10.7,5.3],[-12.5,4.7],[-9.3,2.8],[-11.4,2.6],[-13.8,2.1],[-17.6,3.6],[-18.6,2.4],[-20.4,3.2],[-20.4,1.8],[-21.2,1.5],[-17.5,-1.6],[-17.5,-3.4],[-15.1,-3.9],[-14.7,-1],[-12,-5.6],[-11.4,0.3],[-9.5,-0.1],[-8.9,-1],[-10.1,-1],[-11,-2.8],[-9.3,-2.8],[-8.1,-2.2],[-6.8,-2.8],[-8.2,-4.2],[-5.8,-1],[-7.8,1.5],[-6.6,2.9],[-9.7,0.7],[-10.6,1],[-1.7,2.4],[-2.1,1.5],[-1.6,0.7],[-0.7,0.1],[-0.2,7.5],[2,8.2],[3.2,2.4],[3.6,3.3],[-9.9,-9.8],[-8.7,-9.9],[-7.4,-10.8],[-4.4,-14.8],[2.4,-10.9],[7.9,-12.5],[8.9,-23.2],[-6.6,-35.7],[-5.4,-35.7],[13.7,-10.6]];

const d0: Pt[] = [[-7.9,38.8],[-3.8,37.9],[-4.7,37.4],[-7.5,36.7],[-6,36.7],[-7,35.5],[-8.1,35.2],[-6,35.2],[-4.7,34.8],[-3.4,35.4],[-1.2,34.8],[-7.9,33.8],[-6.6,33.8],[-5.3,33.5],[-4,33.5],[-2.8,34.3],[-8.4,32.3],[-6.2,32.3],[-4.9,32],[-3.6,32.3],[-2.1,32.8],[-5.8,31],[-4.1,31.2],[-9.5,30.7],[-3.4,30.1],[0.2,30],[-4.8,25.8],[11.9,26.4],[15.8,29],[16.4,28.9],[-15,1.3],[-9.2,-7.3],[19.4,-17.5]];
const d1: Pt[] = [[-14.7,14],[-17.3,13.2],[-14.4,11.2],[-13.5,11.3],[-12.8,11],[-11.5,7.8],[-3.1,14.3],[-4.5,13.2],[-6,12.7],[-1.9,13.2],[-2.8,12.2],[-0.9,12.2],[0.7,12.2],[-6.6,10.9],[-4.5,11],[-3.6,10.1],[-1.9,10.6],[-1,9.6],[0.3,9.9],[-3.4,9.3],[-0.2,8.4],[-0.2,6.7],[2.7,8.6],[4.7,13.8],[5.3,14],[6.1,14.7],[-29.9,-15.5],[12.2,-19.6]];
const d2: Pt[] = [[-3.2,-14.6],[-0.6,-14.6],[0.5,-14.3],[-0.6,-15.7],[0.5,-2.1],[0.5,-3.4],[2.4,-2.8],[3,-4.3],[1.6,-4.8],[5.6,-3.9],[4.5,-5.4],[2.8,-6.1],[1.4,-7.8],[-6.2,-7.2],[-12.1,-8.4],[-11.4,-8.7],[-8.9,-8.4],[-9.4,-19.3],[20.3,-9.6],[9.9,-12.9],[11.3,-12.9],[11.3,-14.3],[9.5,-15.7],[9.9,-17.2],[8,-17.4],[8.6,-17.4],[10.6,-16.7],[10,-18],[-30.1,-19.6],[-14,-2.6],[-17.6,-3.2]];
const d3Pts: Pt[] = [[-28.8,22.8],[-29.5,22.2],[-28.2,22.2],[-29.9,20.9],[-27.4,20.9],[-25.2,20.9],[-28.1,19.7],[-27.4,19.1],[-32.1,18.1],[-31,18.7],[-30,18],[-28.1,17.8],[-26.1,18],[-31,16.8],[-29.1,17.3],[-27.4,17.6],[-28.6,15.8],[-30.7,14.7],[-26.9,15.3],[-26,15.5],[-27.2,14.2],[-25.9,14],[-23.6,18.4],[-22.4,18],[-21,19.1],[-20.9,17.5],[-22.4,16.1],[-21.4,16.5],[-19.1,14.4],[-18.5,14.2],[-18.3,15.8],[-17.8,17.3],[-17.8,16.5],[-16.7,14.9],[-14.9,17.8],[-14.2,18],[-12.4,14.7],[-12.9,13.5],[-10.3,20.8],[-5.7,24.7],[4.8,4.9],[7.2,16.3],[18.7,29],[25.4,10.9],[12.6,-2.8],[-12.3,-23.1],[-9.8,-13.4],[-42.5,-2.5],[-14,-0.5],[-14.6,-0.7],[-13.3,-5.1],[-15,-4.8],[-15.9,-6.9],[-15.7,-5.9]];
const d4: Pt[] = [[13.7,26.8],[16.2,26.6],[18.4,26.1],[10.2,23.8],[10.9,24.5],[13.6,25.6],[15.8,25.6],[17.9,24.5],[15.3,24.5],[14,24],[16.6,24],[19.5,22.8],[21.2,23.5],[22.5,22.3],[23.3,22.5],[12.8,22.5],[14.5,22.5],[16,22.8],[17.5,22.5],[12.1,21.1],[13.6,21.1],[15.3,21.1],[16.9,20.9],[18.8,20.9],[20.3,21.1],[23.1,19.7],[12.3,19.4],[14,19.4],[15.8,19.9],[17.9,19.4],[19.7,19.4],[21.8,19.7],[23.4,18.6],[12.4,18.1],[14.5,18.4],[16.4,18.7],[18.4,18],[20.3,17.6],[21.6,18],[13.4,16.8],[15.8,16.8],[17.5,17],[19,16.3],[22.2,16.3],[20.7,16.8],[17.1,15.6],[18.2,14.9],[20.1,15.2],[14.7,14.6],[8.4,15.8],[33.6,5.5]];
const d5: Pt[] = [[-2.7,27.5],[2.2,8],[6.6,-1.2],[4,-2.7],[8.9,-13.7],[14.5,-13.9],[14,-16.2],[6.3,-20],[8.9,-18.2],[17.9,-19.1],[24.4,-19.8],[24,-20.3],[-9.7,-15.4],[-8.2,-14.9],[-3.2,-15.4],[0.5,-16.2],[2,-17.5],[-3.6,-17.7],[-2.3,-18.5],[-0.9,-18],[0.7,-18.5],[-5.2,-19.6],[-3.6,-19.5],[-2.3,-20],[-1,-19.8],[0.5,-20.3],[2.2,-20.1],[-5.8,-21.1],[-4.5,-21.3],[-3.2,-21.1],[-1.7,-21.3],[-0.3,-21.5],[1.1,-21.9],[2.2,-21.9],[4,-21.9],[-6.9,-23.1],[-4.9,-23.2],[-3.2,-22.9],[-1.7,-23.2],[-0.2,-23.6],[1.1,-23.9],[3.1,-24.4],[4.1,-24.2],[-7.1,-25.7],[-6,-24.9],[-4.5,-25.5],[-2.8,-25.3],[-1,-25.3],[0.3,-26],[-5.6,-26.5],[-2.3,-26.7],[-0.6,-27],[-4.9,-28.2],[-3.2,-28.6],[-1.5,-28.6],[1.4,-28.1],[-1.7,-29.8]];
const d6: Pt[] = [[-1,37.6],[17.8,-0.4],[14.5,-2.8],[-51,-7.5],[-0.7,-36.8],[-1.2,-37.6],[-0.2,-37.6],[-0.6,-37.3],[-0.9,-37.8],[27.8,-14.8],[30.7,-15.9],[25.1,-16.2],[27.2,-16.7],[24,-18.5],[25.2,-18.2],[26.3,-18.2],[27.8,-18.2],[29.7,-16.9],[22.5,-17.2],[22.4,-18.2],[21.4,-16.7],[19.2,-16.2],[20.1,-12.9],[20.6,-13.3],[20.3,-13.6],[15.8,-14.9],[17.1,-14.4],[18.4,-16.7],[12.3,-16.2],[28.9,-19.9],[23.1,-21.5],[24.7,-21.5],[26.4,-21.1],[25.7,-19.3],[28.4,-22.1],[28.3,-23],[30.3,-22.6],[20.3,-13.8]];
const d7: Pt[] = [[-37.1,-16],[-35.7,-16],[-38,-17.2],[-33.8,-17.2],[-32.3,-17.4],[-40.7,-18],[-39.4,-19],[-38.1,-19.1],[-36.8,-18.2],[-35.7,-18],[-34.7,-18.8],[-33,-19.3],[-38.2,-20.3],[-37.2,-20.8],[-35.5,-20.1],[-34.2,-20.3],[-33,-20.3],[-35.9,-21.4],[-33.4,-21.5],[-38.7,-22.4],[-35.5,-22.4],[-36.8,-19.8]];
const d8: Pt[] = [[-10.1,36],[-51.6,-2.8],[-50.3,-2.3],[-50.5,-3.6],[-49.7,-4],[-51.6,-4.8],[-47.4,-2.8],[-45.9,-1.4],[-45.6,-2.3],[-44.6,-2.3],[-46.6,-3.8],[-45.5,-4.3],[-44.2,-3.6],[-47.5,-5.2],[-44.6,-4.8],[-46.7,-6.4],[-45.2,-6.5],[-43.5,-6.5],[-49.6,-7.1],[-48.7,-7.4],[-47.5,-7.4],[-49.4,-7.9],[-48.2,-9],[-49.9,-9.6],[-47.2,-8.8],[-48.1,-11.8],[-43.1,-13.5],[-42.2,-14.6],[-40.9,-15.5],[-41.4,-16.2],[-41.6,-16.8],[-37.2,-15],[-16.6,-1.2],[-15.7,-1.8],[-15.7,-2.8],[-16.4,-3.6],[-16.6,-4.6],[-15.3,-3.8],[-12.2,-4.2],[-11.3,-4.1],[28.7,2.6],[30.4,3.4],[32.2,3.9],[31.3,2.4],[33,2.4],[30,1.9],[33.8,2.4],[31.9,0.3],[29.3,-0.5],[34.5,-0.7]];
const d9: Pt[] = [[-2.8,36.2],[-44.8,-9.1],[16.7,11.3],[16,9.8],[14.9,8.8],[13.4,8.1],[9.7,6.5],[11.5,6.1],[12.3,6],[12.8,5.7],[11.9,4.9],[12.2,4.2],[16.6,5.5],[25.7,4.7],[15.2,0.3],[18.8,1.9],[18.8,-0.4],[20.5,0],[21.8,-0.4],[23.1,0],[14.1,-2.3],[21.1,-6.2],[13.2,-9.2],[14.5,-8.7],[15.9,-9.3],[14.7,-10.3],[15.6,-10.7],[17.2,-10.3],[16.2,-11.2],[13.4,-12.6],[17.2,-12.6],[16.2,-13.4],[17.1,-15.2],[16.9,-17.2],[15.6,-18.8],[16.4,-18],[17.4,-18.1],[2.7,-19.4],[1.8,-26],[-10.5,-14.4]];

// grey watermark behind the panels
const watermark = [
  'M393,345 C400,338 408,334 414,333 C425,333 438,338 447,345 L449,333 L481,300 L497,300 L557,348 L393,348 Z',
  'M414,345 L438,345 L438,388 C432,376 424,368 414,365 Z',
  'M414,408 C420,416 430,418 438,408 L438,462 L414,445 Z',
  'M414,556 L438,532 L438,548 L414,590 Z',
  'M328,647 L378,647 C378,668 366,678 353,678 C340,678 330,665 328,647 Z',
  'M300,647 L320,647 L320,649 L300,649 Z',
  'M243,687 L340,680 L346,693 L255,693 Z',
];

type PanelProps = {
  series: Pt[][];
  colors: string[];
  labels: string[];
  ticks: { x: number[]; y: number[] };
  xDomain: number[];
  yDomain: number[];
  box: { left: number; right: number; top: number; bottom: number };
  radius: number;
  legend: { x: number; y: number; width: number; height: number; title?: string; titleX?: number; titleY?: number; markerX: number; textX: number; firstY: number; stepY: number };
  caption: string;
  captionX: number;
  captionY: number;
};

function Panel(props: PanelProps) {
  const { series, colors, labels, ticks, xDomain, yDomain, box, radius, legend } = props;
  const xRef = useRef<SVGGElement>(null);
  const yRef = useRef<SVGGElement>(null);

  const x = d3.scaleLinear().domain(xDomain).range([box.left, box.right]);
  const y = d3.scaleLinear().domain(yDomain).range([box.bottom, box.top]);

  useEffect(() => {
    const fmt = (d: any) => String(d).replace('-', '\u2212');
    const xAxis = d3.axisBottom(x).tickValues(ticks.x).tickSize(3.5).tickPadding(3.5).tickFormat(fmt);
    const yAxis = d3.axisLeft(y).tickValues(ticks.y).tickSize(3.5).tickPadding(3.5).tickFormat(fmt);
    const gx = d3.select(xRef.current).call(xAxis as any);
    const gy = d3.select(yRef.current).call(yAxis as any);
    [gx, gy].forEach((g: any) => {
      g.select('.domain').remove();
      g.selectAll('line').attr('stroke', '#333').attr('stroke-width', 0.8);
      g.selectAll('text').attr('fill', '#333').style('font-family', '"DejaVu Sans"').style('font-size', '9.6px');
    });
  }, []);

  return (
    <g>
      <g filter="url(#soft)">
        {series.map((pts, i) => (
          <g key={i} fill={colors[i]} stroke="#fff" strokeWidth={0.7} clipPath={`url(#clip-${props.caption[1]})`}>
            {pts.map((p, j) => (
              <circle key={j} cx={x(p[0])} cy={y(p[1])} r={radius} />
            ))}
          </g>
        ))}
        <rect x={box.left} y={box.top} width={box.right - box.left} height={box.bottom - box.top} fill="none" stroke="#444" strokeWidth={0.9} />
        <g ref={xRef} transform={`translate(0,${box.bottom})`} />
        <g ref={yRef} transform={`translate(${box.left},0)`} />
        <g>
          <rect x={legend.x} y={legend.y} width={legend.width} height={legend.height} rx={2} fill="#fff" fillOpacity={0.8} stroke="#ccc" strokeWidth={0.8} />
          {legend.title && (
            <text x={legend.titleX} y={legend.titleY} textAnchor="middle" dominantBaseline="central" fill="#333" fontFamily="DejaVu Sans" fontSize={9.6}>{legend.title}</text>
          )}
          {labels.map((l, i) => (
            <g key={l}>
              <circle cx={legend.markerX} cy={legend.firstY + i * legend.stepY} r={radius} fill={colors[i]} stroke="#fff" strokeWidth={0.7} />
              <text x={legend.textX} y={legend.firstY + i * legend.stepY} dominantBaseline="central" fill="#333" fontFamily="DejaVu Sans" fontSize={9.6}>{l}</text>
            </g>
          ))}
        </g>
      </g>
      <text x={props.captionX} y={props.captionY} textAnchor="middle" fontFamily="Liberation Serif" fontSize={30.9} fill="#000">{props.caption}</text>
    </g>
  );
}

export default function App() {
  return (
    <svg width={828} height={693} style={{ position: 'absolute', left: 0, top: 0, display: 'block', background: '#fff' }}>
      <defs>
        <filter id="soft" x="-5%" y="-5%" width="110%" height="110%">
          <feGaussianBlur stdDeviation={0.35} />
        </filter>
        <clipPath id="clip-a"><rect x={39.5} y={12.5} width={362.5} height={269.5} /></clipPath>
        <clipPath id="clip-b"><rect x={469.3} y={8.3} width={370} height={271} /></clipPath>
        <clipPath id="clip-c"><rect x={41.7} y={355.7} width={364.3} height={271.6} /></clipPath>
        <clipPath id="clip-d"><rect x={472.3} y={355} width={370} height={272.3} /></clipPath>
      </defs>
      {watermark.map((d, i) => (
        <path key={i} d={d} fill="#dcdcdc" />
      ))}
      <Panel
        series={[aTarget, aSource]}
        colors={domainColors}
        labels={domainLabels}
        ticks={ticksA}
        xDomain={[-92.2, 100.8]}
        yDomain={[-99.2, 89.1]}
        box={{ left: 39.5, right: 402, top: 12.5, bottom: 282 }}
        radius={4}
        legend={{ x: 44.3, y: 17.3, width: 70, height: 48.7, title: 'Domain', titleX: 78.7, titleY: 25, markerX: 58.3, textX: 77, firstY: 41, stepY: 15.2 }}
        caption="(a) Before adaptation."
        captionX={211}
        captionY={337}
      />
      <Panel
        series={[bTarget, bSource]}
        colors={domainColors}
        labels={domainLabels}
        ticks={ticksB}
        xDomain={[-91.8, 96]}
        yDomain={[-93.7, 86.9]}
        box={{ left: 469.3, right: 833.5, top: 8.3, bottom: 279.3 }}
        radius={4}
        legend={{ x: 758.3, y: 14, width: 90, height: 48.7, title: 'Domain', titleX: 793, titleY: 21.7, markerX: 773.3, textX: 791.3, firstY: 37.7, stepY: 15.3 }}
        caption="(b) After adaptation."
        captionX={640}
        captionY={337}
      />
      <Panel
        series={[c0, c1, c2, c3, c4, c5, c6, c7, c8, c9]}
        colors={digitColors}
        labels={digitLabels}
        ticks={ticksC}
        xDomain={[-44.2, 46.7]}
        yDomain={[-53.5, 40]}
        box={{ left: 41.7, right: 406, top: 355.7, bottom: 627.3 }}
        radius={3.6}
        legend={{ x: 46.7, y: 465, width: 43.3, height: 157, markerX: 60.3, textX: 79, firstY: 474.3, stepY: 15.4 }}
        caption="(c) Before adaptation."
        captionX={211}
        captionY={684}
      />
      <Panel
        series={[d0, d1, d2, d3Pts, d4, d5, d6, d7, d8, d9]}
        colors={digitColors}
        labels={digitLabels}
        ticks={ticksD}
        xDomain={[-55.8, 38]}
        yDomain={[-41.6, 42.6]}
        box={{ left: 472.3, right: 835, top: 355, bottom: 627.3 }}
        radius={3.6}
        legend={{ x: 789.7, y: 360.7, width: 60, height: 156.3, markerX: 804, textX: 823.3, firstY: 369, stepY: 15.47 }}
        caption="(d) After adaptation."
        captionX={640}
        captionY={684}
      />
    </svg>
  );
}
